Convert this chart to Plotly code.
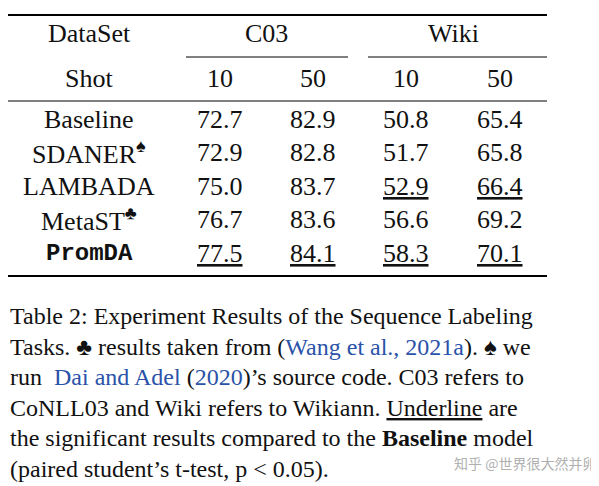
import plotly.graph_objects as go

datasets = ["C03", "Wiki"]
shots = ["10", "50", "10", "50"]
models = ["Baseline", "SDANER", "LAMBADA", "MetaST", "PromDA"]
marks = ["", "♠", "", "♣", ""]
values = [
    [72.7, 82.9, 50.8, 65.4],
    [72.9, 82.8, 51.7, 65.8],
    [75.0, 83.7, 52.9, 66.4],
    [76.7, 83.6, 56.6, 69.2],
    [77.5, 84.1, 58.3, 70.1],
]
underline = [
    [0, 0, 0, 0],
    [0, 0, 0, 0],
    [0, 0, 1, 1],
    [0, 0, 0, 0],
    [1, 1, 1, 1],
]
caption = [
    "Table 2: Experiment Results of the Sequence Labeling",
    "Tasks. ♣ results taken from (<span style='color:#2a52a8'>Wang et al., 2021a</span>). ♠ we",
    "run  <span style='color:#2a52a8'>Dai and Adel</span> (<span style='color:#2a52a8'>2020</span>)’s source code. C03 refers to",
    "CoNLL03 and Wiki refers to Wikiann. <u>Underline</u> are",
    "the significant results compared to the <b>Baseline</b> model",
    "(paired student’s t-test, p < 0.05).",
]

SERIF = "Liberation Serif"
DX, DY = -10, -8
fig = go.Figure()
ann = []
def T(x, y, s, size=26, xa="center", fam=SERIF, color="#111"):
    ann.append(dict(x=x + DX, y=y + DY, text=s, showarrow=False, xanchor=xa, yanchor="middle",
                    font=dict(family=fam, size=size, color=color), xref="x", yref="y"))

colx = [222, 315, 408, 502]
T(91, 33, "DataSet")
T(268, 33, datasets[0]); T(455, 33, datasets[1])
T(91, 78, "Shot")
for x, s in zip(colx, shots):
    T(x, 78, s)
rowy = [119, 152, 186, 219, 253]
for i, (m, mk) in enumerate(zip(models, marks)):
    if m == "PromDA":
        T(91, rowy[i], "<b>PromDA</b>", size=24, fam="Liberation Mono")
    else:
        T(91, rowy[i], m + (f"<sup>{mk}</sup>" if mk else ""))
    for j, v in enumerate(values[i]):
        s = f"{v:.1f}"
        if underline[i][j]:
            s = f"<u>{s}</u>"
        T(colx[j], rowy[i], s)
for k, line in enumerate(caption):
    T(10, 316 + k * 30.5, line, size=24, xa="left")
T(600, 463, "知乎 @世界很大然并卵", size=14, xa="right", fam="Noto Sans CJK SC", color="#b0b0b0")

shapes = []
def L(x0, x1, y, w):
    shapes.append(dict(type="line", x0=x0 + DX, x1=x1 + DX, y0=y + DY, y1=y + DY, xref="x", yref="y",
                       line=dict(color="black", width=w)))
L(10, 549, 15, 2)
L(188, 350, 57, 1)
L(370, 549, 57, 1)
L(10, 549, 101, 1.2)
L(10, 549, 276, 2)

fig.update_layout(width=599, height=486, margin=dict(l=0, r=0, t=0, b=0),
                  plot_bgcolor="white", paper_bgcolor="white",
                  xaxis=dict(range=[0, 599], visible=False, fixedrange=True),
                  yaxis=dict(range=[486, 0], visible=False, fixedrange=True),
                  annotations=ann, shapes=shapes, showlegend=False)
fig.write_html("out.html")
